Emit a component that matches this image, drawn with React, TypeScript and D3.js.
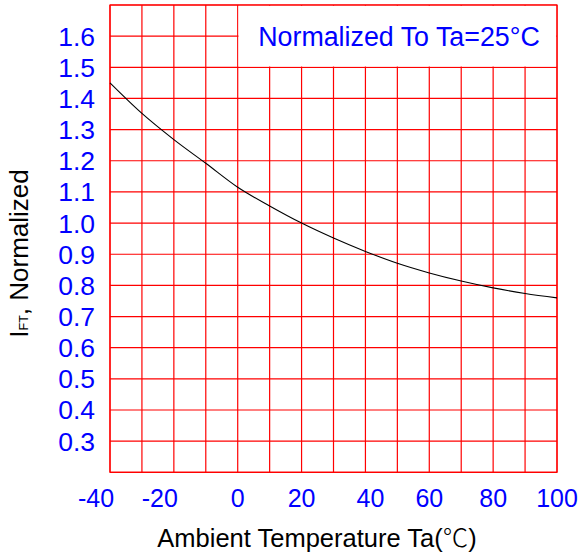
import React from "react";
import * as d3 from "d3";

const temps = [-40, -30, -20, -10, 0, 10, 20, 30, 40, 50, 60, 70, 80, 90, 100];
const ift = [1.45, 1.352, 1.268, 1.192, 1.115, 1.055, 1.0, 0.952, 0.909, 0.871, 0.84, 0.814, 0.792, 0.774, 0.76];
const xTickLabels = [-40, -20, 0, 20, 40, 60, 80, 100];
const yTickLabels = [0.3, 0.4, 0.5, 0.6, 0.7, 0.8, 0.9, 1.0, 1.1, 1.2, 1.3, 1.4, 1.5, 1.6];
const xGrid = d3.range(-40, 101, 10);
const yGrid = [0.2, 0.3, 0.4, 0.5, 0.6, 0.7, 0.8, 0.9, 1.0, 1.1, 1.2, 1.3, 1.4, 1.5, 1.6, 1.7];
const legendText = "Normalized To Ta=25°C";
const xTitle = "Ambient Temperature Ta(";

const W = 582;
const H = 555;
const FONT = "Arial, 'Liberation Sans', Helvetica, sans-serif";

export default function App() {
  const x = d3.scaleLinear().domain([-40, 100]).range([110, 557]);
  const y = d3.scaleLinear().domain([0.2, 1.7]).range([472.3, 5]);
  const line = d3
    .line<number>()
    .x((_, i) => x(temps[i]))
    .y((d) => y(d))
    .curve(d3.curveMonotoneX);
  const red = "#ff0000";
  const gw = 1.2;
  return (
    <svg width={W} height={H} style={{ position: "absolute", left: 0, top: 0, background: "#fff" }}>
      <rect x={0} y={0} width={W} height={H} fill="#fff" />
      {xGrid.map((v) => (
        <line key={"vx" + v} x1={x(v)} x2={x(v)} y1={y(0.2)} y2={y(1.7)} stroke={red} strokeWidth={gw} />
      ))}
      {yGrid.map((v) => (
        <line key={"hy" + v} x1={x(-40)} x2={x(100)} y1={y(v)} y2={y(v)} stroke={red} strokeWidth={gw} />
      ))}
      <rect
        x={x(0) + 0.8}
        y={y(1.7) + 0.8}
        width={x(100) - x(0) - 1.6}
        height={y(1.5) - y(1.7) - 1.6}
        fill="#fff"
      />
      <rect
        x={x(-40)}
        y={y(1.7)}
        width={x(100) - x(-40)}
        height={y(0.2) - y(1.7)}
        fill="none"
        stroke={red}
        strokeWidth={gw}
      />
      <text x={399} y={46} textAnchor="middle" fill="#0000ff" fontFamily={FONT} fontSize={26.8}>
        {legendText}
      </text>
      <path d={line(ift) || ""} fill="none" stroke="#000" strokeWidth={1.1} />
      {yTickLabels.map((v) => (
        <text key={"yt" + v} x={95} y={y(v) + 9.5} textAnchor="end" fill="#0000ff" fontFamily={FONT} fontSize={26.5}>
          {v.toFixed(1)}
        </text>
      ))}
      {xTickLabels.map((v) => (
        <text
          key={"xt" + v}
          x={x(v) + (v < 0 ? -14 : v === 40 ? 5 : 0)}
          y={507}
          textAnchor="middle"
          fill="#0000ff"
          fontFamily={FONT}
          fontSize={25}
        >
          {v}
        </text>
      ))}
      <text x={317} y={547} textAnchor="middle" fill="#000" fontFamily={FONT} fontSize={25.5}>
        <tspan>{xTitle}</tspan>
        <tspan fontFamily="'Noto Sans CJK SC', sans-serif" fontWeight={300}>℃</tspan>
        <tspan>)</tspan>
      </text>
      <text
        transform={`translate(28,253.5) rotate(-90)`}
        textAnchor="middle"
        fill="#000"
        fontFamily={FONT}
        fontSize={26}
      >
        <tspan>I</tspan>
        <tspan fontSize={12.5}>FT</tspan>
        <tspan>, Normalized</tspan>
      </text>
    </svg>
  );
}
